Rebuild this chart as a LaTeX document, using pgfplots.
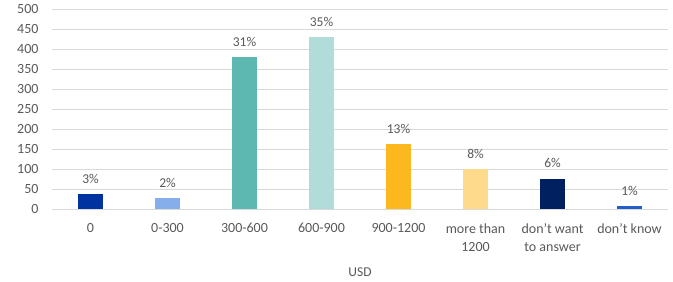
\documentclass[border=0pt]{standalone}
\usepackage{fontspec}
\setmainfont{Carlito}
\usepackage{pgfplots}
\pgfplotsset{compat=1.18}
\definecolor{cA}{HTML}{0033A0}
\definecolor{cB}{HTML}{86AEEA}
\definecolor{cC}{HTML}{5DB8B2}
\definecolor{cD}{HTML}{B0DDD9}
\definecolor{cE}{HTML}{FDB81E}
\definecolor{cF}{HTML}{FEDB8C}
\definecolor{cG}{HTML}{00205F}
\definecolor{cH}{HTML}{1F5FC6}
\definecolor{gridgrey}{HTML}{D9D9D9}
\definecolor{labelgrey}{HTML}{595959}
\begin{document}
\fontsize{13bp}{15bp}\selectfont
\begin{tikzpicture}
\begin{axis}[
  width=616bp, height=200bp, scale only axis,
  xmin=-0.5, xmax=7.5, ymin=0, ymax=500,
  ybar, bar width=25bp, bar shift=0pt,
  ytick={0,50,...,500},
  xtick={0,...,7},
  xticklabels={0,0-300,300-600,600-900,900-1200,{more than\\1200},{don’t want\\to answer},{don’t know}},
  major tick length=0pt,
  axis line style={draw=none},
  ymajorgrids, grid style={color=gridgrey, line width=0.9bp},
  /pgf/number format/assume math mode=true,
  tick label style={color=labelgrey, font=\fontsize{14bp}{18bp}\selectfont},
  yticklabel style={xshift=-9bp},
  xticklabel style={align=center, anchor=north, yshift=-10bp},
  xlabel={USD},
  xlabel style={at={(rel axis cs:0.5,0)}, anchor=center, yshift=-63bp, color=labelgrey, font=\fontsize{13.5bp}{16bp}\selectfont},
  nodes near coords, point meta=explicit symbolic,
  every node near coord/.style={color=labelgrey, anchor=south, yshift=6bp, font=\fontsize{13.5bp}{16bp}\selectfont},
  clip=false,
]
\addplot[fill=cA, draw=none] coordinates {(0,38) [3\%]};
\addplot[fill=cB, draw=none] coordinates {(1,28) [2\%]};
\addplot[fill=cC, draw=none] coordinates {(2,380) [31\%]};
\addplot[fill=cD, draw=none] coordinates {(3,430) [35\%]};
\addplot[fill=cE, draw=none] coordinates {(4,163) [13\%]};
\addplot[fill=cF, draw=none] coordinates {(5,100) [8\%]};
\addplot[fill=cG, draw=none] coordinates {(6,76) [6\%]};
\addplot[fill=cH, draw=none] coordinates {(7,8) [1\%]};
\end{axis}
\pgfresetboundingbox
\path[use as bounding box] ([shift={(-52bp,-73bp)}]current axis.south west) rectangle ([shift={(5bp,9bp)}]current axis.north east);
\end{tikzpicture}
\end{document}
